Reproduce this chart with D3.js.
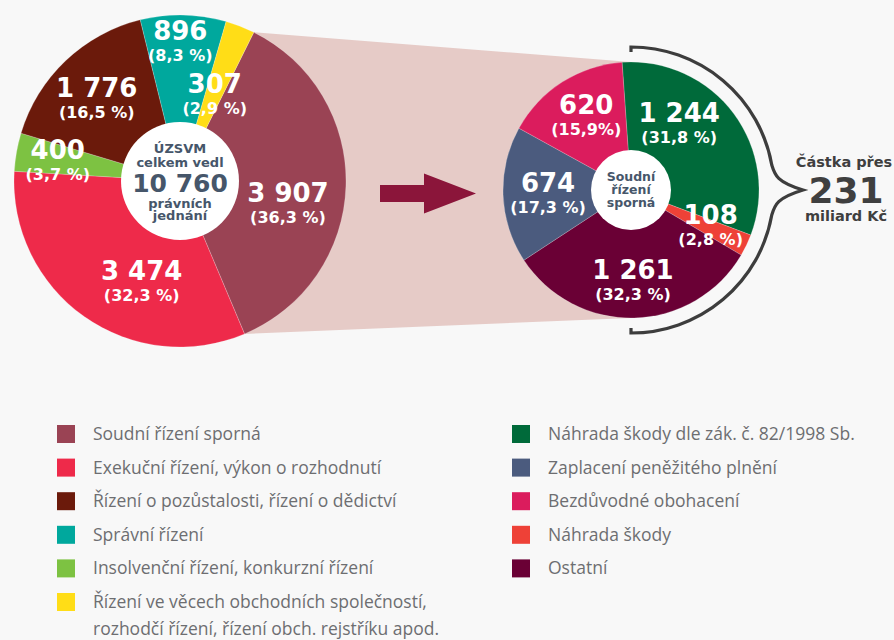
<!DOCTYPE html>
<html>
<head>
<meta charset="utf-8">
<script src="https://cdn.jsdelivr.net/npm/d3@7"></script>
<style>
  body { margin: 0; background: #f8f8f8; }
  svg { display: block; }
</style>
</head>
<body>
<div class="container"></div>
<script>
// Data - left pie (all legal actions), in pie order clockwise
const leftCategories = [
  "Soudní řízení sporná",
  "Exekuční řízení, výkon o rozhodnutí",
  "Insolvenční řízení, konkurzní řízení",
  "Řízení o pozůstalosti, řízení o dědictví",
  "Správní řízení",
  "Řízení ve věcech obchodních společností, rozhodčí řízení, řízení obch. rejstříku apod."
];
const leftValues = [3907, 3474, 400, 1776, 896, 307];
const leftPct = ["36,3 %", "32,3 %", "3,7 %", "16,5 %", "8,3 %", "2,9 %"];
const leftColors = ["#9a4354", "#ee2a4a", "#7dc242", "#6b1a0b", "#00a89d", "#ffdd17"];
const leftLegendOrder = [0, 1, 3, 4, 2, 5];
const leftLegendLines = [
  ["Soudní řízení sporná"],
  ["Exekuční řízení, výkon o rozhodnutí"],
  ["Insolvenční řízení, konkurzní řízení"],
  ["Řízení o pozůstalosti, řízení o dědictví"],
  ["Správní řízení"],
  ["Řízení ve věcech obchodních společností,", "rozhodčí řízení, řízení obch. rejstříku apod."]
];

// Data - right pie (breakdown of "Soudní řízení sporná")
const rightCategories = [
  "Náhrada škody dle zák. č. 82/1998 Sb.",
  "Náhrada škody",
  "Ostatní",
  "Zaplacení peněžitého plnění",
  "Bezdůvodné obohacení"
];
const rightValues = [1244, 108, 1261, 674, 620];
const rightPct = ["31,8 %", "2,8 %", "32,3 %", "17,3 %", "15,9%"];
const rightColors = ["#006a3a", "#ee4137", "#6a0035", "#4b5b7e", "#db1c5d"];
const rightLegendOrder = [0, 3, 4, 1, 2];

const totalLabel = ["ÚZSVM", "celkem vedl", "10 760", "právních", "jednání"];
const centerRightLabel = ["Soudní", "řízení", "sporná"];
const amountLabel = ["Částka přes", "231", "miliard Kč"];

// layout
const width = 894, height = 640;
const L = { cx: 180, cy: 181, r: 166, r0: 59, start: 26.4, labelR: 115 };
const R = { cx: 631, cy: 190, r: 128, r0: 40, start: -4, labelR: 85 };
const leftNudge = [[-7, 19], [28, 7], [-9, 0], [-4, 1], [-2, -24], [-7, 21]];
const rightNudge = [[-20, -15], [3, -1], [0, 6], [2, 1], [1, -2]];
const labelFont = "'DejaVu Sans', Verdana, sans-serif";

const fmt = d3.formatLocale({ decimal: ",", thousands: " ", grouping: [3], currency: ["", " Kč"] }).format(",d");
const rad = d => d * Math.PI / 180;

const svg = d3.select(".container").append("svg")
    .attr("width", width)
    .attr("height", height);

svg.append("rect").attr("width", width).attr("height", height).attr("fill", "#f8f8f8");

const pieL = d3.pie().sort(null).startAngle(rad(L.start)).endAngle(rad(L.start) + 2 * Math.PI);
const pieR = d3.pie().sort(null).startAngle(rad(R.start)).endAngle(rad(R.start) + 2 * Math.PI);
const arcsL = pieL(leftValues);
const arcsR = pieR(rightValues);

// connector band from the highlighted slice to the right pie
const a0 = arcsL[0].startAngle, a1 = arcsL[0].endAngle;
const band = [
  [L.cx + L.r * Math.sin(a0), L.cy - L.r * Math.cos(a0)],
  [R.cx, R.cy - R.r],
  [R.cx, R.cy + R.r],
  [L.cx + L.r * Math.sin(a1), L.cy - L.r * Math.cos(a1)]
];
svg.append("path")
    .attr("d", d3.line()(band) + "Z")
    .attr("fill", "#e6cbc7");

function drawPie(arcs, cfg, colors, nudge, pct) {
  const g = svg.append("g").attr("transform", `translate(${cfg.cx},${cfg.cy})`);
  const arc = d3.arc().innerRadius(0).outerRadius(cfg.r);
  const labelArc = d3.arc().innerRadius(cfg.labelR).outerRadius(cfg.labelR);
  g.selectAll("path.slice")
    .data(arcs)
    .enter().append("path")
    .attr("class", "slice")
    .attr("d", arc)
    .attr("fill", (d, i) => colors[i])
    .attr("stroke", "#f8f8f8")
    .attr("stroke-opacity", 0.35)
    .attr("stroke-width", 0.6);

  g.append("circle").attr("r", cfg.r0).attr("fill", "#ffffff");

  const lab = g.selectAll("g.lab")
    .data(arcs)
    .enter().append("g")
    .attr("class", "lab")
    .attr("transform", (d, i) => {
      const c = labelArc.centroid(d);
      return `translate(${c[0] + nudge[i][0]},${c[1] + nudge[i][1]})`;
    });
  lab.append("text")
    .attr("y", -2)
    .attr("text-anchor", "middle")
    .attr("font-family", labelFont)
    .attr("font-weight", "bold")
    .attr("font-size", 26)
    .attr("fill", "#fff")
    .text(d => fmt(d.value));
  lab.append("text")
    .attr("y", 19)
    .attr("text-anchor", "middle")
    .attr("font-family", labelFont)
    .attr("font-weight", "bold")
    .attr("font-size", 16)
    .attr("fill", "#fff")
    .text((d, i) => "(" + pct[i] + ")");
  return g;
}

const gL = drawPie(arcsL, L, leftColors, leftNudge, leftPct);
const gR = drawPie(arcsR, R, rightColors, rightNudge, rightPct);

// centre texts
const centerColor = "#46566a";
const tl = gL.append("g").attr("font-family", labelFont).attr("font-weight", "bold")
    .attr("text-anchor", "middle").attr("fill", centerColor);
tl.append("text").attr("y", -28).attr("font-size", 13).text(totalLabel[0]);
tl.append("text").attr("y", -14).attr("font-size", 13).text(totalLabel[1]);
tl.append("text").attr("y", 11).attr("font-size", 25).text(totalLabel[2]);
tl.append("text").attr("y", 27).attr("font-size", 13).text(totalLabel[3]);
tl.append("text").attr("y", 39).attr("font-size", 13).text(totalLabel[4]);

const tr = gR.append("g").attr("font-family", labelFont).attr("font-weight", "bold")
    .attr("text-anchor", "middle").attr("fill", centerColor).attr("font-size", 12.5);
centerRightLabel.forEach((t, i) => tr.append("text").attr("y", -9 + i * 13).text(t));

// arrow
const arrowY = (L.cy + R.cy) / 2 + 8;
const ax = 380;
svg.append("path")
    .attr("d", d3.line()([
      [ax, arrowY - 8.5], [ax + 44, arrowY - 8.5], [ax + 44, arrowY - 20],
      [ax + 96, arrowY], [ax + 44, arrowY + 20], [ax + 44, arrowY + 8.5], [ax, arrowY + 8.5]
    ]) + "Z")
    .attr("fill", "#8b153a");

// bracket around the right pie
const BR = 143;
const p = d3.path();
p.moveTo(R.cx, R.cy - BR + 5);
p.lineTo(R.cx, R.cy - BR);
p.arc(R.cx, R.cy, BR, -Math.PI / 2, rad(-10));
const e1 = [R.cx + BR * Math.cos(rad(-10)), R.cy + BR * Math.sin(rad(-10))];
const tip = [R.cx + BR + 29, R.cy];
p.bezierCurveTo(e1[0] + 3, e1[1] + 10, e1[0] + 5, tip[1] - 8, tip[0], tip[1]);
const e2 = [R.cx + BR * Math.cos(rad(10)), R.cy + BR * Math.sin(rad(10))];
p.bezierCurveTo(e2[0] + 5, tip[1] + 8, e2[0] + 3, e2[1] - 10, e2[0], e2[1]);
p.arc(R.cx, R.cy, BR, rad(10), Math.PI / 2);
p.lineTo(R.cx, R.cy + BR - 5);
svg.append("path")
    .attr("d", p.toString())
    .attr("fill", "none")
    .attr("stroke", "#3d3d3d")
    .attr("stroke-width", 3.2);

const am = svg.append("g").attr("font-family", labelFont).attr("font-weight", "bold")
    .attr("text-anchor", "middle").attr("fill", "#3f3f3f");
am.append("text").attr("x", 844).attr("y", 167).attr("font-size", 14.5).text(amountLabel[0]);
am.append("text").attr("x", 846).attr("y", 203).attr("font-size", 36).text(amountLabel[1]);
am.append("text").attr("x", 846).attr("y", 221).attr("font-size", 14.5).text(amountLabel[2]);

// legends
const rowH = 33.6;
function legend(x0, y0, order, colors, lines) {
  const g = svg.append("g").attr("transform", `translate(${x0},${y0})`);
  const rows = g.selectAll("g").data(order).enter().append("g")
    .attr("transform", (d, i) => `translate(0,${i * rowH})`);
  rows.append("rect")
    .attr("x", 0).attr("y", -9).attr("width", 18).attr("height", 18)
    .attr("fill", d => colors[d]);
  rows.each(function(d) {
    const t = d3.select(this).append("text")
      .attr("x", 36)
      .attr("font-family", "'Open Sans', sans-serif")
      .attr("font-size", 17.5)
      .attr("fill", "#6d6e71");
    lines[d].forEach((s, k) => t.append("tspan").attr("x", 36).attr("y", 6 + k * 27).text(s));
  });
}
legend(57, 434, leftLegendOrder, leftColors, leftLegendLines);
legend(512, 434, rightLegendOrder, rightColors, rightCategories.map(s => [s]));
</script>
</body>
</html>
